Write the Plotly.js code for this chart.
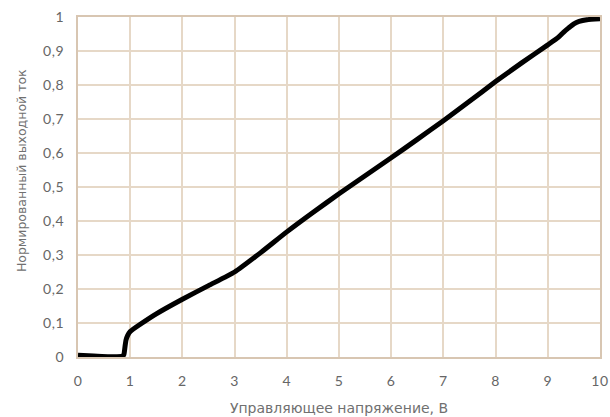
<!DOCTYPE html>
<html>
<head>
<meta charset="utf-8">
<script src="https://cdn.plot.ly/plotly-3.0.1.min.js"></script>
<style>html,body{margin:0;padding:0;background:#fff}#chart{width:610px;height:417px}
.xtick text,.ytick text{letter-spacing:0.6px}</style>
</head>
<body>
<div id="chart"></div>
<script>
var voltage = [0, 0.3, 0.6, 0.85, 0.88, 0.9, 0.92, 0.95, 1.0, 1.2, 1.5, 2, 2.5, 3, 3.5, 4, 4.5, 5, 5.5, 6, 6.5, 7, 7.5, 8, 8.5, 9, 9.2, 9.3, 9.4, 9.5, 9.6, 9.75, 10];
var current = [0.005, 0.003, 0.001, 0.002, 0.008, 0.03, 0.05, 0.063, 0.075, 0.097, 0.127, 0.17, 0.21, 0.25, 0.307, 0.368, 0.425, 0.48, 0.533, 0.586, 0.64, 0.695, 0.752, 0.81, 0.865, 0.918, 0.94, 0.955, 0.968, 0.98, 0.987, 0.992, 0.995];
var xTicks = [0,1,2,3,4,5,6,7,8,9,10];
var yTicks = [0,0.1,0.2,0.3,0.4,0.5,0.6,0.7,0.8,0.9,1];
var yTickText = ["0","0,1","0,2","0,3","0,4","0,5","0,6","0,7","0,8","0,9","1"];
var xTitle = "Управляющее напряжение, В";
var yTitle = "Нормированный выходной ток";

var trace = {
  x: voltage, y: current, type: 'scatter', mode: 'lines',
  line: {color: '#000', width: 5, shape: 'spline', smoothing: 0.5},
  hoverinfo: 'skip'
};
var grid = '#e6d8c7', frame = '#d8c6b2';
var titleFont = '"DejaVu Sans", sans-serif';
var layout = {
  width: 610, height: 417,
  margin: {l: 78, r: 10, t: 17, b: 60},
  paper_bgcolor: '#fff', plot_bgcolor: '#fff',
  font: {family: 'Lato, "Open Sans", sans-serif', color: '#666', size: 13},
  showlegend: false,
  xaxis: {
    range: [0, 10], tickvals: xTicks, ticktext: xTicks.map(String),
    showgrid: true, gridcolor: grid, gridwidth: 2, zeroline: false,
    showline: true, linecolor: frame, linewidth: 2, mirror: true,
    ticks: '', ticklabelstandoff: 10, tickfont: {size: 14, color: '#666'},
    title: {text: xTitle, font: {family: titleFont, size: 14, color: '#707070'}, standoff: 15}
  },
  yaxis: {
    range: [0, 1], tickvals: yTicks, ticktext: yTickText,
    showgrid: true, gridcolor: grid, gridwidth: 2, zeroline: false,
    showline: true, linecolor: frame, linewidth: 2, mirror: true,
    ticks: '', ticklabelstandoff: 9, tickfont: {size: 14, color: '#666'}
  },
  annotations: [{
    text: yTitle, textangle: -90, xref: 'paper', yref: 'paper',
    x: -0.109, y: 0.547, xanchor: 'center', yanchor: 'middle', showarrow: false,
    font: {family: titleFont, size: 12.5, color: '#707070'}
  }]
};
Plotly.newPlot('chart', [trace], layout, {displayModeBar: false, staticPlot: true});
</script>
</body>
</html>
